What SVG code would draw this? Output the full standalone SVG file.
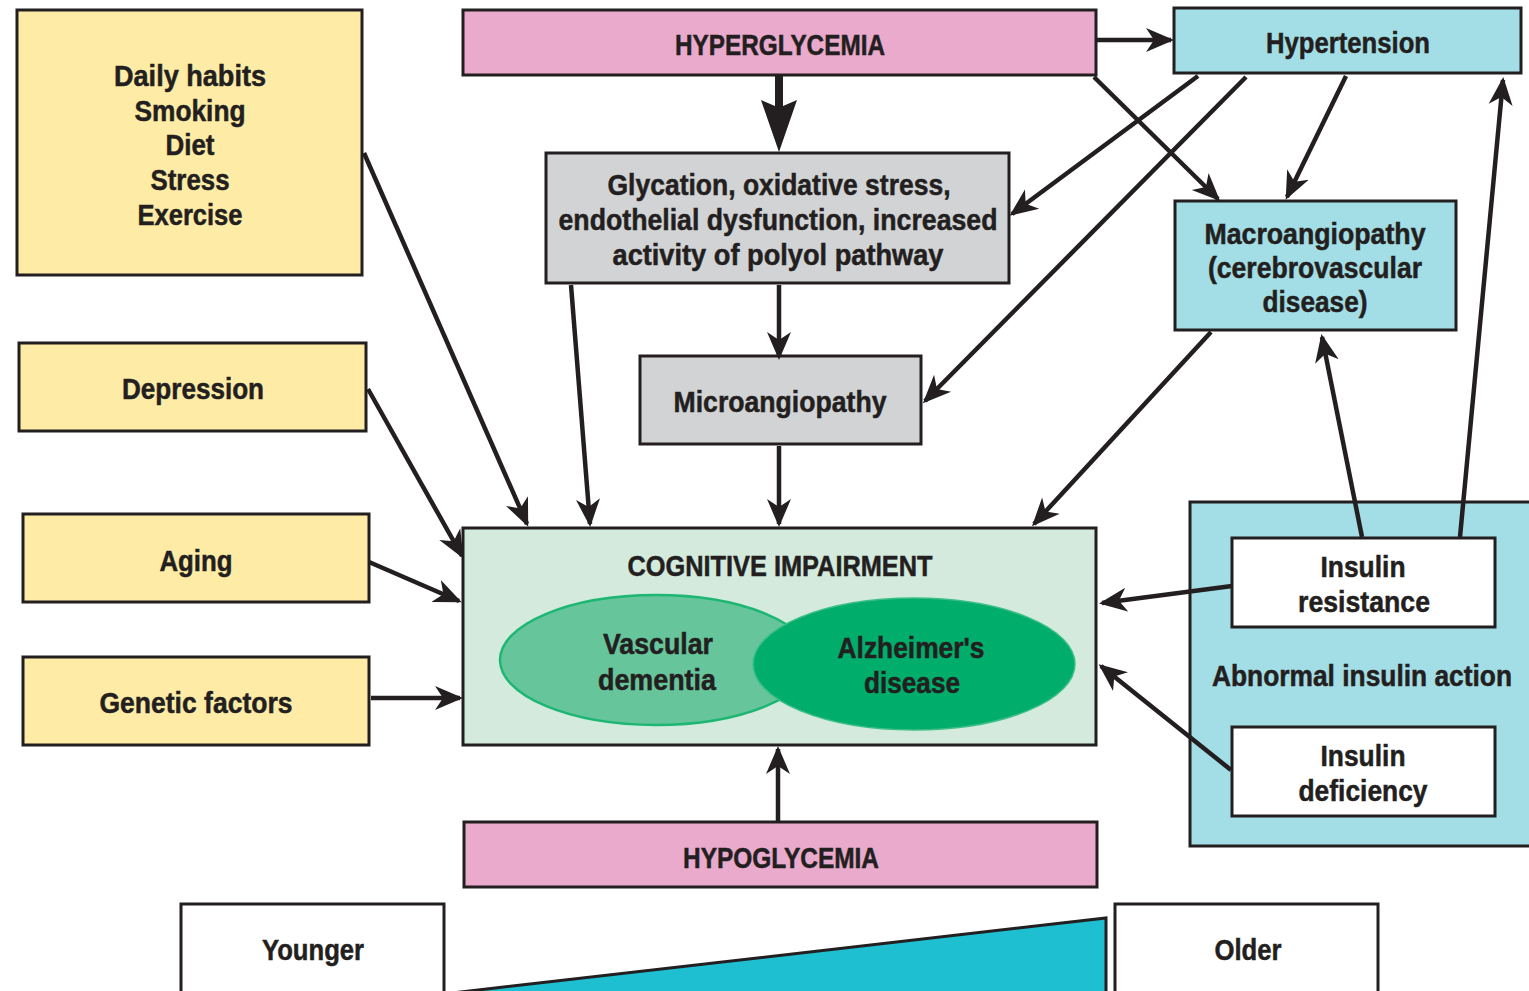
<svg xmlns="http://www.w3.org/2000/svg" width="1529" height="991" viewBox="0 0 1529 991">
<defs>
<style>
.box{stroke:#231f20;stroke-width:3}
.yel{fill:#feeca6}
.pink{fill:#e9aacc}
.cyan{fill:#a3dde5}
.grey{fill:#d2d3d5}
.white{fill:#ffffff}
.cog{fill:#d3eadd}
text{font-family:"Liberation Sans",Arial,sans-serif;font-weight:bold;font-size:29px;fill:#231f20;stroke:#231f20;stroke-width:0.5;text-anchor:middle}
.conn{stroke:#231f20;stroke-width:4.5;fill:none;marker-end:url(#ah)}
</style>
<marker id="ah" markerUnits="userSpaceOnUse" viewBox="0 -13 28 26" refX="25" refY="0" markerWidth="28" markerHeight="26" orient="auto">
<path d="M0,-12 L28,0 L0,12 L8,0 Z" fill="#231f20"/>
</marker>
</defs>

<g id="daily-habits">
<rect class="box yel" x="17" y="10" width="345" height="265"/>
<text x="190" y="86" textLength="152" lengthAdjust="spacingAndGlyphs">Daily habits</text>
<text x="190" y="121" textLength="111" lengthAdjust="spacingAndGlyphs">Smoking</text>
<text x="190" y="155" textLength="49" lengthAdjust="spacingAndGlyphs">Diet</text>
<text x="190" y="190" textLength="79" lengthAdjust="spacingAndGlyphs">Stress</text>
<text x="190" y="225" textLength="105" lengthAdjust="spacingAndGlyphs">Exercise</text>
</g>

<g id="hyperglycemia">
<rect class="box pink" x="463" y="10" width="633" height="65"/>
<text x="780" y="55" textLength="210" lengthAdjust="spacingAndGlyphs">HYPERGLYCEMIA</text>
</g>

<g id="hypertension">
<rect class="box cyan" x="1174" y="8" width="347" height="65"/>
<text x="1348" y="53" textLength="164" lengthAdjust="spacingAndGlyphs">Hypertension</text>
</g>

<g id="glycation">
<rect class="box grey" x="546" y="153" width="463" height="130"/>
<text x="779" y="195" textLength="343" lengthAdjust="spacingAndGlyphs">Glycation, oxidative stress,</text>
<text x="778" y="230" textLength="439" lengthAdjust="spacingAndGlyphs">endothelial dysfunction, increased</text>
<text x="778" y="265" textLength="331" lengthAdjust="spacingAndGlyphs">activity of polyol pathway</text>
</g>

<g id="macroangiopathy">
<rect class="box cyan" x="1175" y="201" width="281" height="129"/>
<text x="1315" y="244" textLength="221" lengthAdjust="spacingAndGlyphs">Macroangiopathy</text>
<text x="1315" y="278" textLength="214" lengthAdjust="spacingAndGlyphs">(cerebrovascular</text>
<text x="1315" y="312" textLength="105" lengthAdjust="spacingAndGlyphs">disease)</text>
</g>

<g id="depression">
<rect class="box yel" x="19" y="343" width="347" height="88"/>
<text x="193" y="399" textLength="142" lengthAdjust="spacingAndGlyphs">Depression</text>
</g>

<g id="microangiopathy">
<rect class="box grey" x="640" y="356" width="281" height="88"/>
<text x="780" y="412" textLength="213" lengthAdjust="spacingAndGlyphs">Microangiopathy</text>
</g>

<g id="aging">
<rect class="box yel" x="23" y="514" width="346" height="88"/>
<text x="196" y="571" textLength="73" lengthAdjust="spacingAndGlyphs">Aging</text>
</g>

<g id="genetic-factors">
<rect class="box yel" x="23" y="657" width="346" height="88"/>
<text x="196" y="713" textLength="193" lengthAdjust="spacingAndGlyphs">Genetic factors</text>
</g>

<g id="cognitive-impairment">
<rect class="box cog" x="463" y="528" width="633" height="217"/>
<text x="780" y="576" textLength="305" lengthAdjust="spacingAndGlyphs">COGNITIVE IMPAIRMENT</text>
<ellipse cx="656" cy="660" rx="156" ry="65" fill="#66c59b" stroke="#1db672" stroke-width="2.5"/>
<ellipse cx="914" cy="664" rx="161" ry="66" fill="#00ad6b" stroke="#3cbf86" stroke-width="1.5"/>
<text x="658" y="654" textLength="110" lengthAdjust="spacingAndGlyphs">Vascular</text>
<text x="657" y="690" textLength="118" lengthAdjust="spacingAndGlyphs">dementia</text>
<text x="911" y="658" textLength="147" lengthAdjust="spacingAndGlyphs">Alzheimer's</text>
<text x="912" y="693" textLength="96" lengthAdjust="spacingAndGlyphs">disease</text>
</g>

<g id="abnormal-insulin-action">
<rect class="box cyan" x="1190" y="502" width="400" height="344"/>
<text x="1362" y="686" textLength="300" lengthAdjust="spacingAndGlyphs">Abnormal insulin action</text>
</g>

<g id="insulin-resistance">
<rect class="box white" x="1232" y="538" width="263" height="89"/>
<text x="1363" y="577" textLength="85" lengthAdjust="spacingAndGlyphs">Insulin</text>
<text x="1364" y="612" textLength="132" lengthAdjust="spacingAndGlyphs">resistance</text>
</g>

<g id="insulin-deficiency">
<rect class="box white" x="1232" y="727" width="263" height="89"/>
<text x="1363" y="766" textLength="85" lengthAdjust="spacingAndGlyphs">Insulin</text>
<text x="1363" y="801" textLength="129" lengthAdjust="spacingAndGlyphs">deficiency</text>
</g>

<g id="hypoglycemia">
<rect class="box pink" x="464" y="822" width="633" height="65"/>
<text x="781" y="868" textLength="196" lengthAdjust="spacingAndGlyphs">HYPOGLYCEMIA</text>
</g>

<g id="younger">
<rect class="box white" x="181" y="904" width="263" height="100"/>
<text x="313" y="960" textLength="102" lengthAdjust="spacingAndGlyphs">Younger</text>
</g>

<g id="older">
<rect class="box white" x="1115" y="904" width="263" height="100"/>
<text x="1248" y="960" textLength="67" lengthAdjust="spacingAndGlyphs">Older</text>
</g>

<g id="age-wedge">
<polygon points="452,993 1106,918 1106,993" fill="#1ebfd0" stroke="#231f20" stroke-width="3"/>
</g>

<g id="connectors">
<path d="M775,76 L783,76 L783,106 L797,100 L779,152 L761,100 L775,106 Z" fill="#231f20"/>
<path class="conn" d="M1097,40 L1171,40" stroke-width="5.5"/>
<path class="conn" d="M1094,77 L1218,199"/>
<path class="conn" d="M1198,76 L1012,214"/>
<path class="conn" d="M1246,77 L925,401"/>
<path class="conn" d="M1346,76 L1287,197"/>
<path class="conn" d="M364,153 L527,524"/>
<path class="conn" d="M571,285 L590,524"/>
<path class="conn" d="M779,285 L779,357"/>
<path class="conn" d="M779,446 L779,524"/>
<path class="conn" d="M1211,332 L1034,524"/>
<path class="conn" d="M368,389 L462,556"/>
<path class="conn" d="M369,562 L459,601"/>
<path class="conn" d="M371,698 L460,698"/>
<path class="conn" d="M778,822 L778,749"/>
<path class="conn" d="M1232,586 L1102,603"/>
<path class="conn" d="M1231,770 L1101,666"/>
<path class="conn" d="M1362,537 L1322,337"/>
<path class="conn" d="M1460,537 L1503,80"/>
</g>
</svg>
